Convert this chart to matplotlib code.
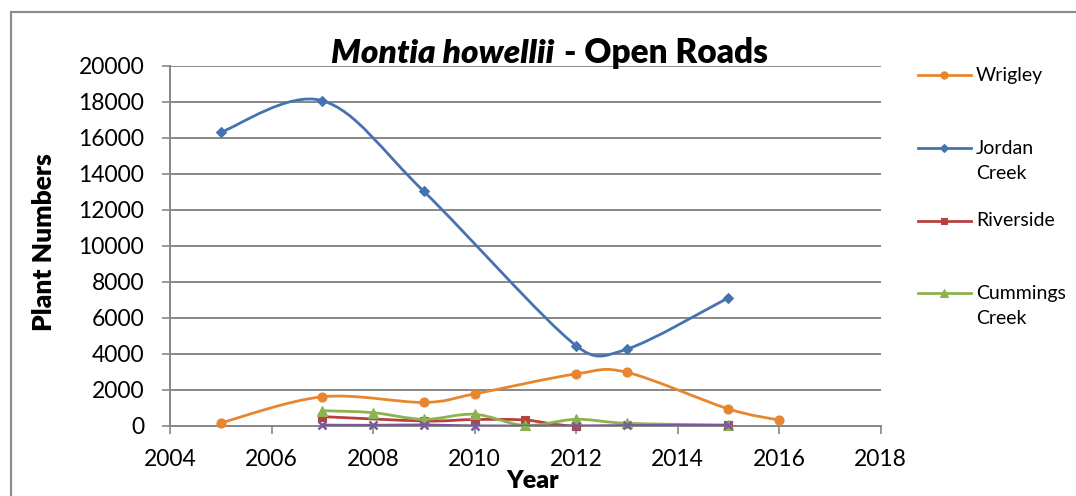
import numpy as np
import matplotlib
matplotlib.use('Agg')
import matplotlib.pyplot as plt
from matplotlib.path import Path
from matplotlib.patches import PathPatch, Rectangle
from matplotlib.lines import Line2D

# ---- data ----
wrigley_years = [2005, 2007, 2009, 2010, 2012, 2013, 2015, 2016]
wrigley_vals = [170, 1620, 1310, 1780, 2890, 2980, 950, 330]
jordan_years = [2005, 2007, 2009, 2012, 2013, 2015]
jordan_vals = [16300, 18050, 13020, 4460, 4260, 7110]
riverside_years = [2007, 2009, 2010, 2011, 2012, 2015]
riverside_vals = [520, 280, 360, 330, 0, 40]
cummings_years = [2007, 2008, 2009, 2010, 2011, 2012, 2013, 2015]
cummings_vals = [850, 740, 370, 650, 30, 370, 150, 50]
fifth_years = [2007, 2008, 2009, 2010, 2012, 2013, 2015]
fifth_vals = [50, 40, 60, 10, 0, 30, 40]

x_ticks = [2004, 2006, 2008, 2010, 2012, 2014, 2016, 2018]
y_ticks = [0, 2000, 4000, 6000, 8000, 10000, 12000, 14000, 16000, 18000, 20000]

legend_labels = ["Wrigley", "Jordan\nCreek", "Riverside", "Cummings\nCreek"]

plt.rcParams['font.family'] = ['Lato', 'DejaVu Sans']

W, H = 1076, 496
fig = plt.figure(figsize=(W / 100, H / 100), dpi=100)
ax = fig.add_axes([170 / W, 70 / H, 710.5 / W, 360.5 / H])
ax.set_xlim(2004, 2018)
ax.set_ylim(0, 20000)
ax.set_xticks(x_ticks)
ax.set_yticks(y_ticks)
ax.set_xticklabels([str(v) for v in x_ticks])
ax.set_yticklabels([str(v) for v in y_ticks])

grid_col = '#878787'
ax.yaxis.grid(True, color=grid_col, lw=1.4)
ax.set_axisbelow(True)
for s in ['top', 'right']:
    ax.spines[s].set_visible(False)
for s in ['left', 'bottom']:
    ax.spines[s].set_color(grid_col)
    ax.spines[s].set_linewidth(1.4)
ax.tick_params(axis='both', direction='out', length=5.5, width=1.2, color=grid_col,
               labelsize=16.5, labelcolor='black')
ax.tick_params(axis='y', pad=13)
ax.tick_params(axis='x', pad=11)


def excel_smooth_path(ax, xs, ys):
    pts = ax.transData.transform(np.column_stack([xs, ys]).astype(float))
    n = len(pts)
    verts = [pts[0]]
    codes = [Path.MOVETO]
    for i in range(n - 1):
        p0 = pts[i - 1] if i > 0 else pts[i]
        p1 = pts[i]
        p2 = pts[i + 1]
        p3 = pts[i + 2] if i + 2 < n else pts[i + 1]
        d12 = np.hypot(*(p2 - p1))
        d02 = np.hypot(*(p2 - p0))
        d13 = np.hypot(*(p3 - p1))
        f1 = 1 / 6
        f2 = 1 / 6
        if d02 > 0 and d02 / 6 > d12 / 2:
            f1 = (d12 / 2) / d02
        if d13 > 0 and d13 / 6 > d12 / 2:
            f2 = (d12 / 2) / d13
        c1 = p1 + (p2 - p0) * f1
        c2 = p2 - (p3 - p1) * f2
        verts += [c1, c2, p2]
        codes += [Path.CURVE4] * 3
    verts = ax.transData.inverted().transform(np.array(verts))
    return Path(verts, codes)


series = [
    (wrigley_years, wrigley_vals, '#E8862E', 'o', 6.5),
    (jordan_years, jordan_vals, '#4573B0', 'D', 5.0),
    (riverside_years, riverside_vals, '#B9403D', 's', 6.0),
    (cummings_years, cummings_vals, '#8DB250', '^', 7.0),
    (fifth_years, fifth_vals, '#7A5A9E', 'x', 5.5),
]

for i, (xs, ys, col, mk, ms) in enumerate(series):
    path = excel_smooth_path(ax, xs, ys)
    ax.add_patch(PathPatch(path, fill=False, edgecolor=col, lw=2.0, zorder=3 + i,
                           capstyle='round', joinstyle='round'))
    ax.plot(xs, ys, linestyle='none', marker=mk, color=col, markersize=ms,
            markeredgewidth=1.8 if mk == 'x' else 0.8, markeredgecolor=col,
            zorder=3 + i, clip_on=False)

# title
fig.text(554 / W, 1 - 63 / H, 'Montia howellii', ha='right', va='baseline',
         fontsize=24, fontweight='heavy', fontstyle='italic')
fig.text(564 / W, 1 - 63 / H, '- Open Roads', ha='left', va='baseline',
         fontsize=24, fontweight='heavy')

# axis titles
fig.text(44 / W, 1 - 242 / H, 'Plant Numbers', rotation=90, ha='center', va='center',
         fontsize=19, fontweight='heavy')
fig.text(533 / W, 1 - 481 / H, 'Year', ha='center', va='center',
         fontsize=18, fontweight='heavy')

# legend (manual, Excel-like layout)
leg_y = [75, 148, 221, 293]
for (xs, ys, col, mk, ms), lab, y in zip(series[:4], legend_labels, leg_y):
    yf = 1 - y / H
    fig.add_artist(Line2D([918 / W, 971 / W], [yf, yf], color=col, lw=2.0,
                          transform=fig.transFigure))
    fig.add_artist(Line2D([944 / W], [yf], color=col, marker=mk,
                          markersize=ms * 0.8, markeredgewidth=0.8, markeredgecolor=col,
                          transform=fig.transFigure))
    lines = lab.split('\n')
    for k, ln in enumerate(lines):
        fig.text(976 / W, 1 - (y + 25 * k) / H, ln, ha='left', va='center', fontsize=14)

# outer chart border (partially visible)
fig.add_artist(Rectangle((11 / W, -0.2), 1.2, 1.2 - 12 / H, transform=fig.transFigure,
                         fill=False, edgecolor='#8c8c8c', lw=1.6))

fig.savefig('out.png', dpi=100)
